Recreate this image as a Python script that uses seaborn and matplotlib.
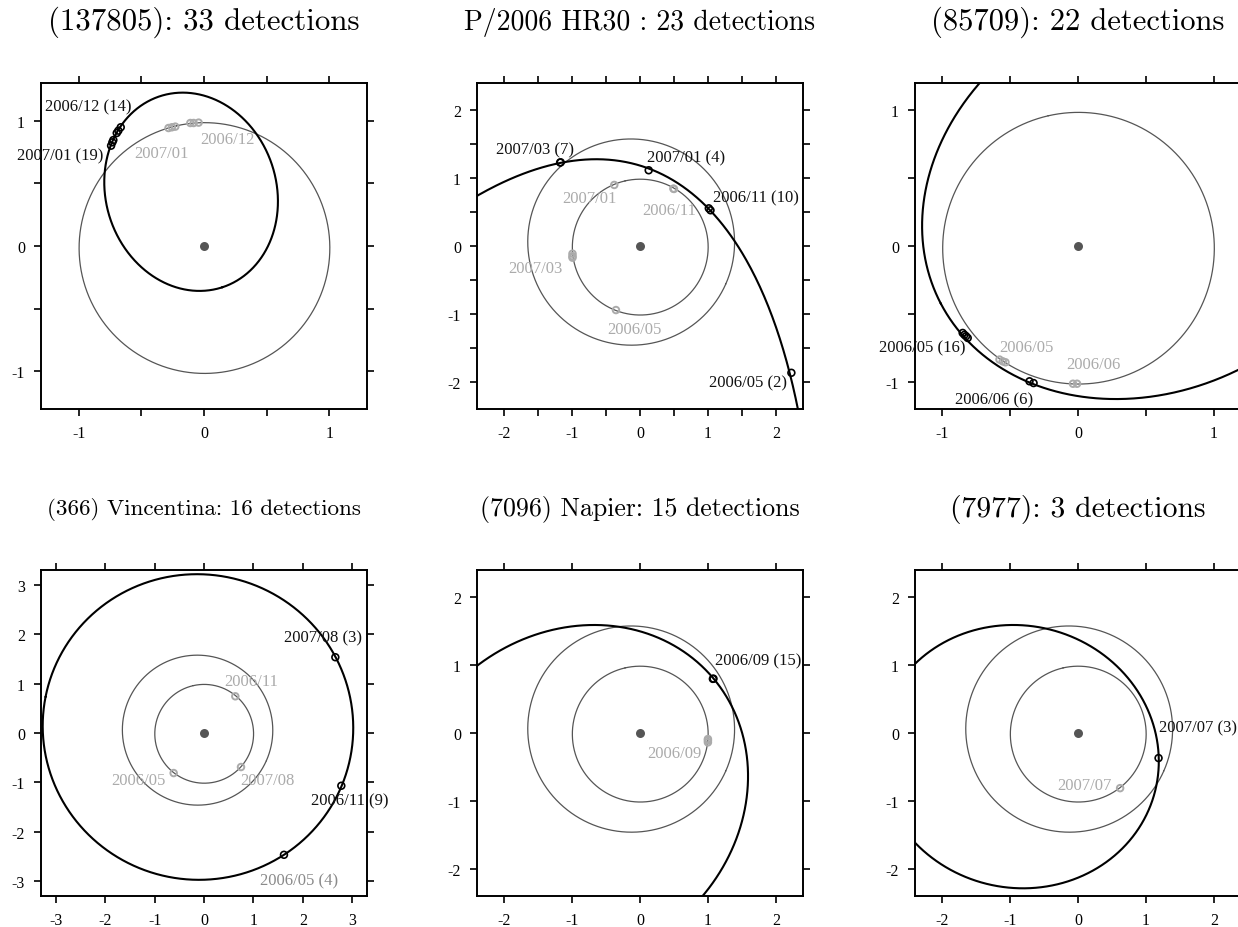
import numpy as np
import matplotlib
matplotlib.use("Agg")
import matplotlib.pyplot as plt
import seaborn as sns

sns.set_style("ticks")
plt.rcParams["font.family"] = ["Liberation Serif", "DejaVu Serif"]
plt.rcParams["axes.unicode_minus"] = False

titles = ["(137805): 33 detections", "P/2006 HR30 : 23 detections", "(85709): 22 detections",
          "(366) Vincentina: 16 detections", "(7096) Napier: 15 detections", "(7977): 3 detections"]
title_sizes = [22.2, 20.0, 22.0, 16.6, 18.6, 21.4]

# half-width of the square view of each panel (AU)
view_half = [1.3, 2.4, 1.2, 3.3, 2.4, 2.4]
major_ticks = [[-1, 0, 1], [-2, -1, 0, 1, 2], [-1, 0, 1],
               [-3, -2, -1, 0, 1, 2, 3], [-2, -1, 0, 1, 2], [-2, -1, 0, 1, 2]]
minor_ticks = [[-0.5, 0.5], [-1.5, -0.5, 0.5, 1.5], [-0.5, 0.5], [], [], []]

# projected asteroid orbits: centre, semi-axes, tilt of the long axis (deg)
orbit_cx = [-0.1029, -5.6964, 0.5561, -0.1220, -0.9787, -0.8811]
orbit_cy = [0.4325, -16.7730, 0.3948, 0.1213, -0.9339, -0.3482]
orbit_a = [0.8015, 18.8394, 1.7672, 3.1456, 2.6948, 2.0793]
orbit_b = [0.6800, 6.3335, 1.4476, 3.0918, 2.3899, 1.9296]
orbit_tilt = [-71.98, -107.70, -152.46, 168.80, -139.27, 166.01]

# planet orbits (Earth, Mars) in the same form
earth_orbit = [0.00373, -0.01628, 1.0, 0.99986, 102.9]
mars_orbit = [-0.13007, 0.05775, 1.5237, 1.5170, 336.06]
shows_mars = [False, True, False, True, True, True]

# asteroid positions at the detection epochs
ast_x = [[-0.696, -0.683, -0.664, -0.741, -0.731, -0.723],
         [-1.176, -1.168, 0.128, 1.013, 1.038, 2.229],
         [-0.849, -0.836, -0.824, -0.812, -0.357, -0.327],
         [2.659, 2.780, 1.619],
         [1.073, 1.082],
         [1.186]]
ast_y = [[0.901, 0.920, 0.947, 0.800, 0.827, 0.845],
         [1.229, 1.232, 1.115, 0.555, 0.526, -1.867],
         [-0.640, -0.654, -0.664, -0.677, -0.996, -1.009],
         [1.534, -1.068, -2.466],
         [0.797, 0.800],
         [-0.369]]

# Earth positions at the same epochs
earth_x = [[-0.109, -0.083, -0.043, -0.283, -0.256, -0.229],
           [-0.379, 0.492, 0.500, -0.994, -0.994, -0.994, -0.354],
           [-0.578, -0.554, -0.534, -0.037, -0.007],
           [0.634, 0.749, -0.614],
           [1.000, 1.000, 1.000],
           [0.620]]
earth_y = [[0.981, 0.981, 0.984, 0.941, 0.947, 0.952],
           [0.899, 0.845, 0.840, -0.113, -0.150, -0.172, -0.943],
           [-0.836, -0.849, -0.856, -1.014, -1.014],
           [0.743, -0.689, -0.811],
           [-0.089, -0.110, -0.138],
           [-0.812]]

# month labels: asteroid side (with detection counts) and Earth side
ast_labels = [["2006/12 (14)", "2007/01 (19)"],
              ["2007/03 (7)", "2007/01 (4)", "2006/11 (10)", "2006/05 (2)"],
              ["2006/05 (16)", "2006/06 (6)"],
              ["2007/08 (3)", "2006/11 (9)", "2006/05 (4)"],
              ["2006/09 (15)"],
              ["2007/07 (3)"]]
ast_label_x = [[-0.923, -1.149], [-1.545, 0.679, 1.712, 1.589], [-1.144, -0.615],
               [2.409, 2.949, 1.929], [1.737], [1.761]]
ast_label_y = [[1.115, 0.725], [1.425, 1.302, 0.722, -2.005], [-0.743, -1.127],
               [1.926, -1.372, -2.976], [1.073], [0.084]]
ast_label_colors = [["#111111"] * 2, ["#111111"] * 4, ["#111111"] * 2,
                    ["#111111", "#111111", "#8a8a8a"], ["#111111"], ["#111111"]]

earth_labels = [["2006/12", "2007/01"],
                ["2007/01", "2006/11", "2007/03", "2006/05"],
                ["2006/05", "2006/06"],
                ["2006/11", "2007/08", "2006/05"],
                ["2006/09"],
                ["2007/07"]]
earth_label_x = [[0.184, -0.341], [-0.748, 0.423, -1.535, -0.084], [-0.376, 0.116],
                 [0.951, 1.275, -1.336], [0.507], [0.089]]
earth_label_y = [[0.853, 0.739], [0.713, 0.531, -0.319, -1.219], [-0.743, -0.868],
                 [1.047, -0.946, -0.946], [-0.295], [-0.763]]

LIGHT = "#ababab"
PLANET = "#555555"


def ellipse_xy(cx, cy, a, b, tilt, n=1441):
    t = np.linspace(0, 2 * np.pi, n)
    th = np.radians(tilt)
    u, v = a * np.cos(t), b * np.sin(t)
    return cx + u * np.cos(th) - v * np.sin(th), cy + u * np.sin(th) + v * np.cos(th)


def draw_orbit(ax, params, color, lw):
    x, y = ellipse_xy(*params)
    sns.lineplot(x=x, y=y, sort=False, estimator=None, ax=ax, color=color, lw=lw,
                 legend=False)


fig = plt.figure(figsize=(12.38, 9.28), dpi=100)
W, H, S = 1238, 928, 326
col_left = [41, 477, 915]
row_top = [84, 571]

for k in range(6):
    r, c = divmod(k, 3)
    ax = fig.add_axes([col_left[c] / W, 1 - (row_top[r] + S) / H, S / W, S / H])
    lim = view_half[k]

    draw_orbit(ax, earth_orbit, PLANET, 0.9)
    if shows_mars[k]:
        draw_orbit(ax, mars_orbit, PLANET, 0.9)
    draw_orbit(ax, [orbit_cx[k], orbit_cy[k], orbit_a[k], orbit_b[k], orbit_tilt[k]],
               "black", 1.5)

    sns.scatterplot(x=[0.0], y=[0.0], ax=ax, s=42, color=PLANET, edgecolor=PLANET,
                    linewidth=0, zorder=4, legend=False)
    sns.scatterplot(x=earth_x[k], y=earth_y[k], ax=ax, s=22, marker="o",
                    facecolor="none", edgecolor=LIGHT, linewidth=1.4, zorder=5, legend=False)
    sns.scatterplot(x=ast_x[k], y=ast_y[k], ax=ax, s=24, marker="o",
                    facecolor="none", edgecolor="black", linewidth=1.2, zorder=6, legend=False)

    for txt, tx, ty, col in zip(ast_labels[k], ast_label_x[k], ast_label_y[k],
                                ast_label_colors[k]):
        ax.text(tx, ty, txt, ha="center", va="center", fontsize=12, color=col,
                clip_on=False, zorder=7)
    for txt, tx, ty in zip(earth_labels[k], earth_label_x[k], earth_label_y[k]):
        ax.text(tx, ty, txt, ha="center", va="center", fontsize=12, color=LIGHT,
                clip_on=False, zorder=7)

    ax.set_xlim(-lim, lim)
    ax.set_ylim(-lim, lim)
    ax.set_aspect("equal", adjustable="box")
    ax.set_xlabel("")
    ax.set_ylabel("")
    labels = [str(v) for v in major_ticks[k]]
    ax.set_xticks(major_ticks[k], labels=labels)
    ax.set_yticks(major_ticks[k], labels=labels)
    ax.set_xticks(minor_ticks[k], minor=True)
    ax.set_yticks(minor_ticks[k], minor=True)
    for which in ("major", "minor"):
        ax.tick_params(which=which, direction="out", top=True, right=True, length=5,
                       width=1.2, color="black", labelsize=11.5, pad=6.5,
                       labelcolor="black")
    for sp in ax.spines.values():
        sp.set_visible(True)
        sp.set_linewidth(1.4)
        sp.set_color("black")

    ax.text(0.5, 1.19, titles[k], transform=ax.transAxes, ha="center", va="center",
            fontsize=title_sizes[k], family="cmr10", color="black")

fig.savefig("out.png", dpi=100)
